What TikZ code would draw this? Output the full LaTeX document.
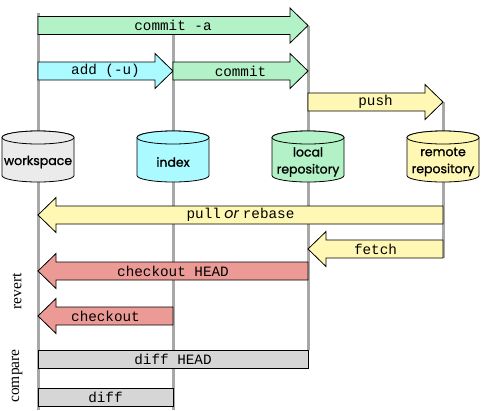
\documentclass[tikz,border=0pt]{standalone}
\usepackage{fontspec}
\setmainfont{Liberation Serif}
\setmonofont{Liberation Mono}
\newfontfamily\cylfont{Poppins}[FakeBold=1.2]
\newfontfamily\orfont{Poppins}
\definecolor{cgreen}{RGB}{178,242,198}
\definecolor{ccyan}{RGB}{170,250,255}
\definecolor{cyellow}{RGB}{255,248,180}
\definecolor{cred}{RGB}{236,154,150}
\definecolor{cgray}{RGB}{214,214,214}
\definecolor{cws}{RGB}{235,235,235}
\definecolor{cline}{RGB}{168,168,168}
\tikzset{
  box/.style={draw=black,line width=0.8pt,line join=miter},
  lbl/.style={font=\fontsize{14.3}{15}\ttfamily,inner sep=0pt},
  cyltxt/.style={font=\fontsize{12.5}{17}\cylfont,align=center,inner sep=0pt},
  vline/.style={draw=cline,line width=3pt},
  side/.style={font=\fontsize{15.5}{17}\selectfont,rotate=90,inner sep=0pt}
}
\newcommand\rarr[6]{%
  \draw[box,fill=#5] (#2,#4-9) -- (#3-18,#4-9) -- (#3-18,#4-17.5) -- (#3,#4) -- (#3-18,#4+17.5) -- (#3-18,#4+9) -- (#2,#4+9) -- cycle;
  \node[lbl] (#1) at ({(#2+#3)/2},#4) {#6};}
\newcommand\larr[6]{%
  \draw[box,fill=#5] (#3,#4-9) -- (#2+18,#4-9) -- (#2+18,#4-17.5) -- (#2,#4) -- (#2+18,#4+17.5) -- (#2+18,#4+9) -- (#3,#4+9) -- cycle;
  \node[lbl] (#1) at ({(#2+#3)/2},#4) {#6};}
\newcommand\cyl[4]{%
  \draw[box,fill=#3] (#2-36,137.5) -- (#2-36,175.5) arc[start angle=180,end angle=360,x radius=36pt,y radius=6.5pt] -- (#2+36,137.5) arc[start angle=0,end angle=180,x radius=36pt,y radius=6.5pt] -- cycle;
  \draw[box,fill=#3] (#2,137.5) ellipse[x radius=36pt,y radius=6.5pt];
  \node[cyltxt] (#1) at (#2,162) {#4};}
\begin{document}
\begin{tikzpicture}[x=1pt,y=-1pt]
\useasboundingbox (0,0) rectangle (481,410);
% lifelines
\coordinate (wsT) at (38,13);  \coordinate (wsB) at (38,410);
\coordinate (ixT) at (173,34); \coordinate (ixB) at (173,410);
\coordinate (lrT) at (308,26); \coordinate (lrB) at (308,350);
\coordinate (rrT) at (443,102); \coordinate (rrB) at (443,258);
\draw[vline] (wsT) -- (wsB);
\draw[vline] (ixT) -- (ixB);
\draw[vline] (lrT) -- (lrB);
\draw[vline] (rrT) -- (rrB);
% cylinders
\cyl{ws}{38}{cws}{workspace}
\cyl{ix}{173}{ccyan}{index}
\cyl{lr}{308}{cgreen}{local\\repository}
\cyl{rr}{443}{cyellow}{remote\\repository}
% arrows
\rarr{commita}{38}{308}{25.5}{cgreen}{commit -a}
\rarr{add}{38}{173}{71}{ccyan}{add (-u)}
\rarr{commit}{173}{308}{71}{cgreen}{commit}
\rarr{push}{308}{443}{102}{cyellow}{push}
\larr{pull}{38}{443}{215}{cyellow}{pull\hspace{3.5pt}{\orfont\itshape or}\hspace{4pt}rebase}
\larr{fetch}{308}{443}{249}{cyellow}{fetch}
\larr{cohead}{38}{308}{271}{cred}{checkout HEAD}
\larr{co}{38}{173}{316}{cred}{checkout}
\draw[box,fill=cgray] (38,350) rectangle (308,368);
\node[lbl] (diffhead) at (173,359) {diff HEAD};
\draw[box,fill=cgray] (38,388) rectangle (173,406);
\node[lbl] (diff) at (105.5,397) {diff};
% side labels
\node[side] (revert) at (17,291.5) {revert};
\node[side] (compare) at (17,376) {compare};
\end{tikzpicture}
\end{document}
